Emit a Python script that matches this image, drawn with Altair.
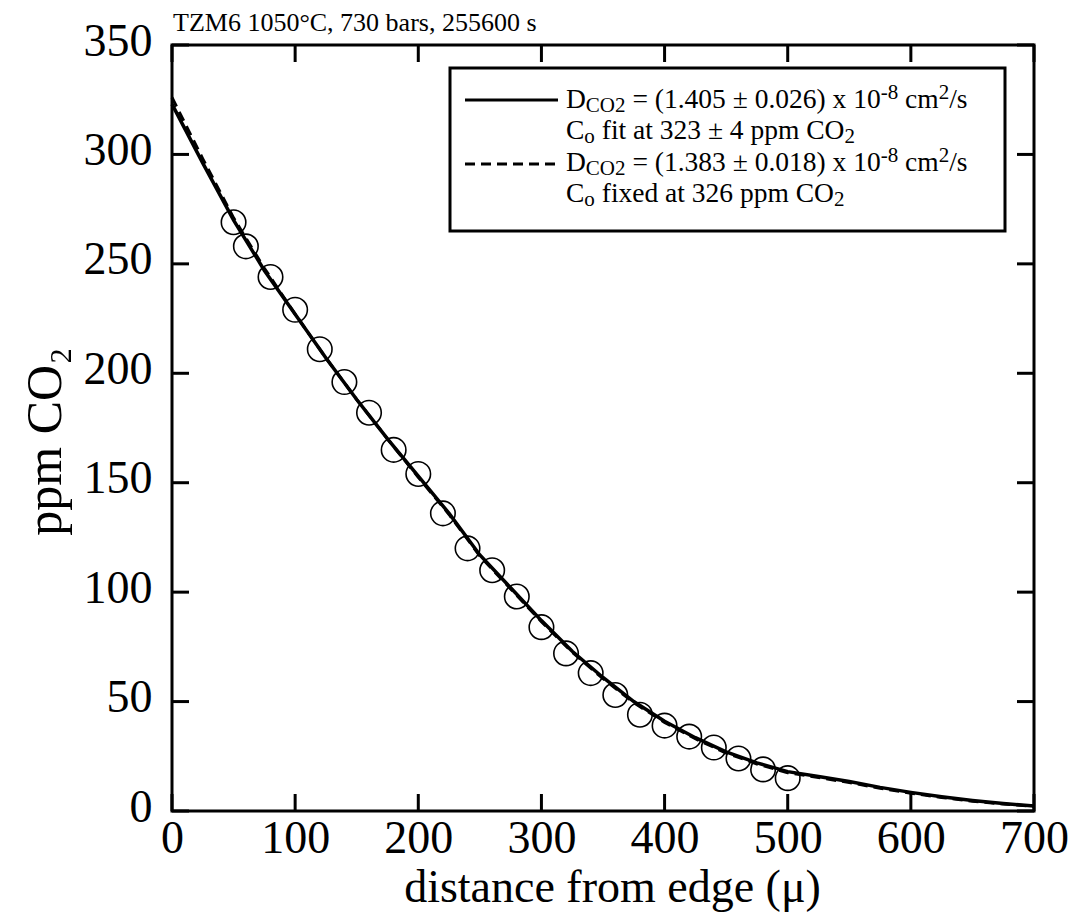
import altair as alt
import pandas as pd

# ---------------- data ----------------
dist_um = [50, 60, 80, 100, 120, 140, 160, 180, 200, 220, 240, 260, 280, 300,
           320, 340, 360, 380, 400, 420, 440, 460, 480, 500]
ppm_co2 = [269, 258, 244, 229, 211, 196, 182, 165, 154, 136, 120, 110, 98, 84,
           72, 63, 53, 44, 39, 34, 29, 24, 19, 15]

curve_x = [0, 25, 50, 75, 100, 125, 150, 175, 200, 225, 250, 275, 300, 325,
           350, 375, 400, 425, 450, 475, 500, 525, 550, 575, 600, 625, 650, 675, 700]
fit_free = [323, 296, 270, 247, 227, 207, 188, 170, 153, 136, 117, 102, 87, 73,
            61, 50, 41, 33.5, 27, 22, 18, 15.8, 13.5, 10.8, 8.5, 6.5, 4.8, 3.4, 2.3]
fit_fixed = [326, 298, 271, 248, 227, 207, 188, 170, 152.5, 135.5, 116.5, 101.5, 86.5, 72.5,
             60.5, 49.5, 40.5, 33, 26.5, 21.5, 17.5, 15.3, 13, 10.4, 8.1, 6.2, 4.5, 3.2, 2.1]

x_ticks = [0, 100, 200, 300, 400, 500, 600, 700]
y_ticks = [0, 50, 100, 150, 200, 250, 300, 350]

title_text = "TZM6 1050°C, 730 bars, 255600 s"
x_title = "distance from edge (μ)"
y_title = "ppm CO₂"

# legend rows: (text, kind, leading gap in em of the main size)
legend_rows = [
    [("D", "L", 0), ("CO2", "sub", 0), ("= (1.405 ± 0.026) x 10", "L", .25), ("-8", "sup", 0),
     ("cm", "L", .25), ("2", "sup", 0), ("/s", "L", 0)],
    [("C", "L", 0), ("o", "sub", 0), ("fit at 323 ± 4 ppm CO", "L", .25), ("2", "sub", 0)],
    [("D", "L", 0), ("CO2", "sub", 0), ("= (1.383 ± 0.018) x 10", "L", .25), ("-8", "sup", 0),
     ("cm", "L", .25), ("2", "sup", 0), ("/s", "L", 0)],
    [("C", "L", 0), ("o", "sub", 0), ("fixed at 326 ppm CO", "L", .25), ("2", "sub", 0)],
]

# ---------------- layout ----------------
W, H = 862, 766
FONT = "Liberation Serif"
TICK = 17
LEG_S, LEG_s = 27.5, 21

# Times-compatible advance widths (per em) for text layout of the legend
ADV = {" ": .25, "(": .333, ")": .333, ".": .25, "=": .564, "±": .549, "x": .5,
       "-": .333, "c": .444, "m": .778, "/": .278, "s": .389, "D": .722, "C": .667,
       "O": .722, "o": .5, "f": .333, "i": .278, "t": .278, "a": .444, "p": .5,
       "e": .444, "d": .5}


def text_width(txt, size):
    return sum(ADV.get(ch, .5) for ch in txt) * size


one = pd.DataFrame({"k": [0]})
xscale = alt.Scale(domain=[0, 700], nice=False, zero=False)
yscale = alt.Scale(domain=[0, 350], nice=False, zero=False)

xaxis = alt.Axis(
    values=x_ticks, ticks=False, tickSize=0, domain=False, grid=False,
    labelFont=FONT, labelFontSize=46, labelColor="black", labelPadding=41,
    labelBaseline="alphabetic", labelFlush=False, labelOverlap=False,
    title=x_title, titleFont=FONT, titleFontSize=46, titleFontWeight="normal",
    titleColor="black", titleX=440, titleY=90, titleBaseline="alphabetic",
    titleAlign="center")
yaxis = alt.Axis(
    values=y_ticks, ticks=False, tickSize=0, domain=False, grid=False,
    labelFont=FONT, labelFontSize=46, labelColor="black", labelPadding=20,
    labelOffset=-4, labelFlush=False, labelOverlap=False,
    title=y_title, titleFont=FONT, titleFontSize=50, titleFontWeight="normal",
    titleColor="black", titleAngle=270, titleX=-112, titleY=396,
    titleAlign="center", titleBaseline="alphabetic")


def X(field):
    return alt.X(field, type="quantitative", scale=xscale, axis=xaxis, title=x_title)


def Y(field):
    return alt.Y(field, type="quantitative", scale=yscale, axis=yaxis, title=y_title)


pts = pd.DataFrame({"dist": dist_um, "ppm": ppm_co2})
cur = pd.DataFrame({"cx": curve_x, "free": fit_free, "fixed": fit_fixed})

points = alt.Chart(pts).mark_point(
    shape="circle", filled=False, size=600, stroke="black", strokeWidth=1.6, opacity=1
).encode(x=X("dist"), y=Y("ppm"))

line_free = alt.Chart(cur).mark_line(color="black", strokeWidth=3.5).encode(
    x=X("cx"), y=Y("free"))
line_fixed = alt.Chart(cur).mark_line(color="black", strokeWidth=3, strokeDash=[10, 6]).encode(
    x=X("cx"), y=Y("fixed"))

xt = pd.DataFrame({"t": x_ticks})
yt = pd.DataFrame({"t": y_ticks})
tick_layers = [
    alt.Chart(xt).mark_rule(color="black", strokeWidth=3).encode(
        x=X("t"), y=alt.value(H), y2=alt.value(H - TICK)),
    alt.Chart(xt).mark_rule(color="black", strokeWidth=3).encode(
        x=X("t"), y=alt.value(0), y2=alt.value(TICK)),
    alt.Chart(yt).mark_rule(color="black", strokeWidth=3).encode(
        y=Y("t"), x=alt.value(0), x2=alt.value(TICK)),
    alt.Chart(yt).mark_rule(color="black", strokeWidth=3).encode(
        y=Y("t"), x=alt.value(W), x2=alt.value(W - TICK)),
]

# legend box and samples
legend_box = alt.Chart(one).mark_rect(fill="white", stroke="black", strokeWidth=3).encode(
    x=alt.value(278), x2=alt.value(833), y=alt.value(23), y2=alt.value(186))
sample_solid = alt.Chart(one).mark_rule(color="black", strokeWidth=3).encode(
    x=alt.value(293), x2=alt.value(386), y=alt.value(55))
sample_dash = alt.Chart(one).mark_rule(color="black", strokeWidth=3, strokeDash=[10, 6]).encode(
    x=alt.value(293), x2=alt.value(386), y=alt.value(119))

text_layers = []
baselines = [63, 94, 126, 157]
for row, base in zip(legend_rows, baselines):
    xpos = 394.0
    for txt, kind, gap in row:
        size = LEG_S if kind == "L" else LEG_s
        dy = {"L": 0, "sub": 4, "sup": -9}[kind]
        xpos += gap * LEG_S
        text_layers.append(
            alt.Chart(one).mark_text(
                text=txt, font=FONT, fontSize=size, color="black",
                align="left", baseline="alphabetic"
            ).encode(x=alt.value(xpos), y=alt.value(base + dy))
        )
        xpos += text_width(txt, size)

title_mark = alt.Chart(one).mark_text(
    text=title_text, font=FONT, fontSize=26, color="black",
    align="left", baseline="alphabetic"
).encode(x=alt.value(1), y=alt.value(-14))

chart = alt.layer(
    points, line_free, line_fixed, *tick_layers,
    legend_box, sample_solid, sample_dash, *text_layers, title_mark
).properties(
    width=W, height=H,
    autosize=alt.AutoSizeParams(type="none"),
    padding={"left": 164, "top": 37, "right": 40, "bottom": 104},
    background="white",
).configure_view(stroke="black", strokeWidth=3)

chart.save("out.html", embed_options={"renderer": "svg", "actions": False})
